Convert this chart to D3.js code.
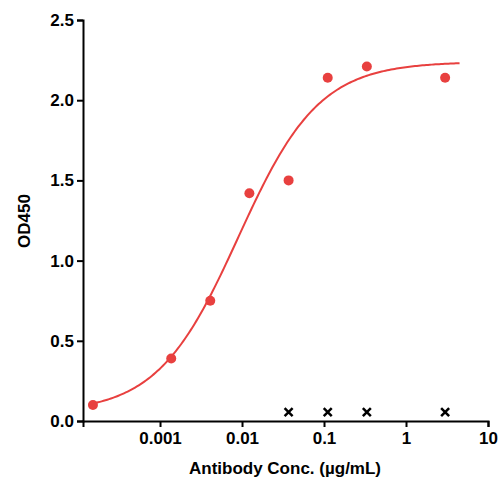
<!DOCTYPE html>
<html><head><meta charset="utf-8">
<script src="https://cdn.jsdelivr.net/npm/d3@7"></script>
<style>body{margin:0;background:#fff}text{font-family:Arial,"Liberation Sans",sans-serif}</style>
</head><body><svg id="c" width="504" height="495"></svg>
<script>
const conc = [0.000152, 0.00137, 0.0041, 0.0123, 0.037, 0.111, 0.333, 3];
const od = [0.10, 0.39, 0.75, 1.42, 1.50, 2.14, 2.21, 2.14];
const ctrlConc = [0.037, 0.111, 0.333, 3];
const ctrlOd = [0.055, 0.055, 0.055, 0.055];
const fit = {bottom: 0.05, top: 2.24, ec50: 0.009, hill: 0.88};
const xTicks = [0.001, 0.01, 0.1, 1, 10];
const yTicks = [0, 0.5, 1, 1.5, 2, 2.5];

const svg = d3.select("#c");
const x = d3.scaleLog().domain([0.000115, 10]).range([83, 488]);
const y = d3.scaleLinear().domain([0, 2.5]).range([421, 20]);
const red = "#e8403f";

svg.append("g").attr("transform", "translate(0,421)")
  .call(d3.axisBottom(x).tickValues(xTicks).tickFormat(d => String(d)).tickSize(6))
  .call(g => g.selectAll("text").attr("font-size", 17).attr("font-weight", "bold").attr("dy", "0.85em"));
svg.append("g").attr("transform", "translate(83,0)")
  .call(d3.axisLeft(y).tickValues(yTicks).tickFormat(d3.format(".1f")).tickSize(6))
  .call(g => g.selectAll("text").attr("font-size", 17).attr("font-weight", "bold"));
svg.selectAll(".domain,.tick line").attr("stroke", "#000").attr("stroke-width", 2);

const f = c => fit.bottom + (fit.top - fit.bottom) / (1 + Math.pow(fit.ec50 / c, fit.hill));
const xs = d3.range(0, 201).map(i => Math.pow(10, Math.log10(0.000135) + i / 200 * (Math.log10(4.5) - Math.log10(0.000135))));
svg.append("path").datum(xs).attr("fill", "none").attr("stroke", red).attr("stroke-width", 2)
  .attr("d", d3.line().x(d => x(d)).y(d => y(f(d))));

svg.selectAll(".pt").data(conc).join("circle").attr("cx", d => x(d)).attr("cy", (d, i) => y(od[i]))
  .attr("r", 5).attr("fill", red);

const s = 4;
svg.selectAll(".cx").data(ctrlConc).join("path")
  .attr("d", (d, i) => { const cx = x(d), cy = y(ctrlOd[i]); return `M${cx-s},${cy-s}L${cx+s},${cy+s}M${cx-s},${cy+s}L${cx+s},${cy-s}`; })
  .attr("stroke", "#000").attr("stroke-width", 2.5);

svg.append("text").attr("x", 285).attr("y", 474).attr("text-anchor", "middle")
  .attr("font-size", 17).attr("font-weight", "bold").text("Antibody Conc. (µg/mL)");
svg.append("text").attr("transform", "translate(30,221) rotate(-90)").attr("text-anchor", "middle")
  .attr("font-size", 17).attr("font-weight", "bold").text("OD450");
</script></body></html>
